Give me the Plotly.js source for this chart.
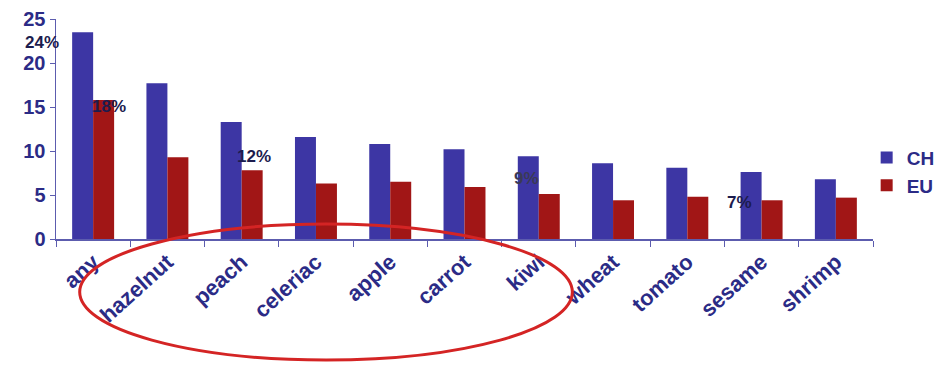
<!DOCTYPE html>
<html>
<head>
<meta charset="utf-8">
<script src="https://cdn.plot.ly/plotly-3.0.1.min.js"></script>
<style>html,body{margin:0;padding:0;background:#fff;overflow:hidden}#chart{width:941px;height:365px}</style>
</head>
<body>
<div id="chart"></div>
<script>
const categories = ['any','hazelnut','peach','celeriac','apple','carrot','kiwi','wheat','tomato','sesame','shrimp'];
const chValues = [23.5, 17.7, 13.3, 11.6, 10.8, 10.2, 9.4, 8.6, 8.1, 7.6, 6.8];
const euValues = [15.8, 9.3, 7.8, 6.3, 6.5, 5.9, 5.1, 4.4, 4.8, 4.4, 4.7];
const seriesNames = ['CH', 'EU'];
const pctText = ['24%', '18%', '12%', '9%', '7%'];
const pctCat = ['any', 'any', 'peach', 'kiwi', 'sesame'];
const pctY = [22.3, 15.1, 9.4, 6.9, 4.2];
const yTicks = [0, 5, 10, 15, 20, 25];

const FONT = 'Arial, "Liberation Sans", sans-serif';
const TXT = '#2b2b86';
const pctShift = [-51, 16, 12, -12, -22];

const data = [
  {type:'bar', name:seriesNames[0], x:categories, y:chValues, marker:{color:'#3d36a4'}, hoverinfo:'skip'},
  {type:'bar', name:seriesNames[1], x:categories, y:euValues, marker:{color:'#a11616'}, hoverinfo:'skip'}
];

const annotations = pctText.map((t,i)=>({
  x:pctCat[i], y:pctY[i], xref:'x', yref:'y', xshift:pctShift[i], text:t, showarrow:false,
  font:{family:FONT, size:17, color: i===3 ? '#3a3a55' : '#1c1c4e', weight:'bold'}
}));

const layout = {
  width:941, height:365,
  margin:{l:56, r:68, t:19, b:126, autoexpand:false},
  paper_bgcolor:'#ffffff', plot_bgcolor:'#ffffff',
  barmode:'group', bargap:0.435, bargroupgap:0,
  showlegend:true,
  legend:{xref:'container', yref:'container', x:0.921, y:0.62, xanchor:'left', yanchor:'top',
          font:{family:FONT, size:19, color:TXT, weight:'bold'}, bgcolor:'rgba(0,0,0,0)'},
  xaxis:{
    type:'category', range:[-0.5, 10.5], tickangle:-42, showline:true, linecolor:'#5c5cae', linewidth:1.5,
    ticks:'outside', tickson:'boundaries', ticklen:6, tickcolor:'#5c5cae', automargin:false,
    tickfont:{family:FONT, size:22, color:TXT, weight:'bold'}, showgrid:false, zeroline:false
  },
  yaxis:{
    range:[0,25], tickvals:yTicks, showline:true, linecolor:'#5c5cae', linewidth:1.5,
    ticks:'outside', ticklen:5, tickcolor:'#5c5cae', automargin:false,
    tickfont:{family:FONT, size:20, color:TXT, weight:'bold'}, showgrid:false, zeroline:false
  },
  annotations: annotations,
  shapes:[
    {type:'circle', xref:'paper', yref:'paper', x0:0.029, x1:0.632, y0:-0.55, y1:0.068,
     line:{color:'#d42424', width:3}, fillcolor:'rgba(0,0,0,0)', layer:'above'}
  ]
};

Plotly.newPlot('chart', data, layout, {displayModeBar:false, staticPlot:true});
</script>
</body>
</html>
